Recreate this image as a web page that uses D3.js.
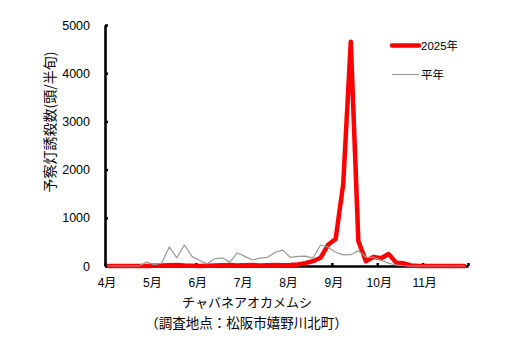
<!DOCTYPE html>
<html>
<head>
<meta charset="utf-8">
<script src="https://cdn.jsdelivr.net/npm/d3@7"></script>
<style>
  html, body { margin: 0; padding: 0; background: #fff; }
  svg { display: block; }
  text { fill: #000; }
</style>
</head>
<body>
<svg id="chart" width="522" height="346"></svg>
<script>
// Month labels on the x axis (each month split into six 半旬 periods)
const months = ["4月", "5月", "6月", "7月", "8月", "9月", "10月", "11月"];
const periodsPerMonth = 6;

// Trap catches per 半旬, April 1st period through November 6th period
const catch2025 = [
  0, 0, 0, 0, 0, 0,
  5, 10, 15, 20, 10, 5,
  0, 5, 10, 15, 20, 10,
  15, 20, 10, 15, 20, 15,
  20, 30, 60, 100, 170, 440,
  560, 1700, 4650, 520, 100, 190,
  160, 250, 70, 55, 10, 0,
  0, 0, 0, 0, 0, 0
];
const catchNormal = [
  0, 0, 0, 0, 0, 80,
  30, 60, 395, 170, 435, 200,
  115, 45, 150, 170, 80, 270,
  200, 125, 165, 180, 285, 330,
  180, 200, 205, 165, 435, 390,
  285, 230, 235, 315, 185, 180,
  120, 60, 20, 5, 0, 0,
  0, 0, 0, 0, 0, 0
];
const yTicks = [0, 1000, 2000, 3000, 4000, 5000];

const seriesNames = ["2025年", "平年"];
const seriesColors = ["#ff0000", "#999999"];
const seriesWidths = [4.5, 1.2];

const svg = d3.select("#chart");
const plotLeft = 105, plotRight = 468, plotTop = 25, plotBottom = 266;
const fontLatin = "'Liberation Sans', Arial, 'Noto Sans CJK JP', sans-serif";
const fontCJK = "'Noto Sans CJK JP', 'Noto Sans', sans-serif";

const nPeriods = months.length * periodsPerMonth;
const xBand = d3.scaleBand().domain(d3.range(nPeriods)).range([plotLeft, plotRight]).padding(0);
const xMonth = d3.scaleLinear().domain([0, months.length]).range([plotLeft, plotRight]);
const y = d3.scaleLinear().domain([0, 5000]).range([plotBottom, plotTop]);

// Axes
const yAxis = d3.axisLeft(y).tickValues(yTicks).tickFormat(d3.format("d"))
  .tickSize(-3).tickSizeOuter(0).tickPadding(15);
const gy = svg.append("g").attr("transform", `translate(${plotLeft},0)`).call(yAxis);
gy.select(".domain").attr("stroke", "#000").attr("stroke-width", 2.6);
gy.selectAll(".tick line").attr("stroke", "#000").attr("stroke-width", 2.5);
gy.selectAll(".tick text").attr("font-family", fontLatin).attr("font-size", 12.5);

const xAxis = d3.axisBottom(xMonth).tickValues(d3.range(months.length + 1))
  .tickFormat(i => months[i] || "").tickSize(-3).tickSizeOuter(0).tickPadding(12);
const gx = svg.append("g").attr("transform", `translate(0,${plotBottom})`).call(xAxis);
gx.select(".domain").attr("stroke", "#000").attr("stroke-width", 2.6);
gx.selectAll(".tick line").attr("stroke", "#000").attr("stroke-width", 2.5);
gx.selectAll(".tick text").attr("font-family", fontLatin).attr("font-size", 12).attr("dx", 1.5);

// Lines
const line = d3.line()
  .x((d, i) => xBand(i) + xBand.bandwidth() / 2)
  .y(d => y(d));

[catch2025, catchNormal].forEach((data, k) => {
  svg.append("path")
    .datum(data)
    .attr("fill", "none")
    .attr("stroke", seriesColors[k])
    .attr("stroke-width", seriesWidths[k])
    .attr("stroke-linejoin", "round")
    .attr("stroke-linecap", "round")
    .attr("d", line);
});

// Legend
const legend = svg.append("g");
seriesNames.forEach((name, k) => {
  const ly = 45.5 + k * 29;
  legend.append("line")
    .attr("x1", 392).attr("x2", 419).attr("y1", ly).attr("y2", ly)
    .attr("stroke", seriesColors[k]).attr("stroke-width", seriesWidths[k])
    .attr("stroke-linecap", k === 0 ? "round" : "butt");
  legend.append("text")
    .attr("x", 421).attr("y", ly).attr("dy", "0.36em")
    .attr("font-family", fontLatin).attr("font-size", 11.5)
    .text(name);
});

// Axis title (vertical)
svg.append("text")
  .attr("transform", "translate(50,122) rotate(-90)")
  .attr("text-anchor", "middle").attr("dy", "0.36em")
  .attr("font-family", fontCJK).attr("font-size", 14)
  .text("予察灯誘殺数(頭/半旬)");

// Species and survey site
svg.append("text")
  .attr("x", 247).attr("y", 302).attr("dy", "0.36em")
  .attr("text-anchor", "middle")
  .attr("font-family", fontCJK).attr("font-size", 13)
  .text("チャバネアオカメムシ");
svg.append("text")
  .attr("x", 246.5).attr("y", 323).attr("dy", "0.36em")
  .attr("text-anchor", "middle")
  .attr("font-family", fontCJK).attr("font-size", 13.5)
  .text("（調査地点：松阪市嬉野川北町）");
</script>
</body>
</html>
